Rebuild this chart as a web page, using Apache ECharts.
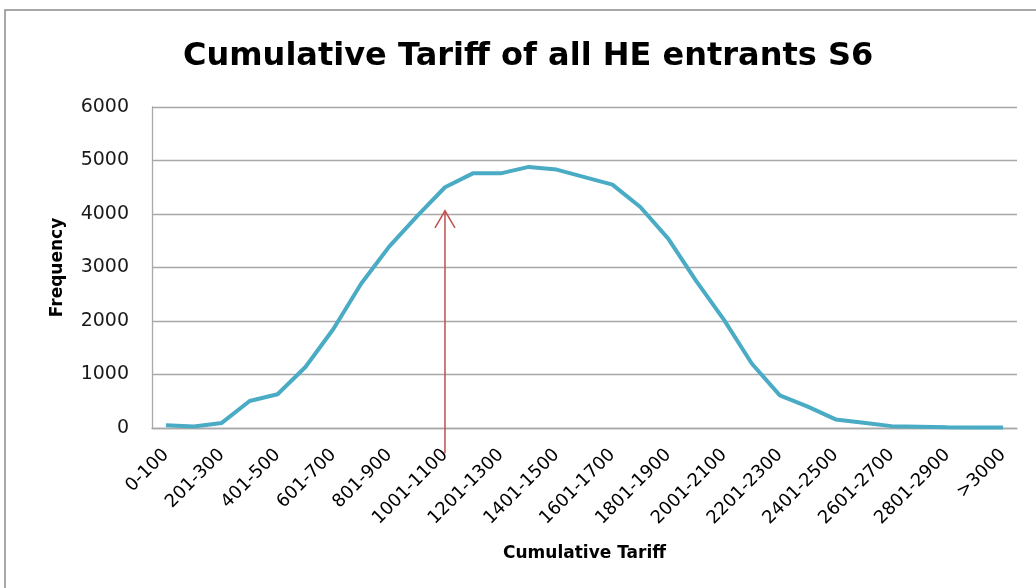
<!DOCTYPE html>
<html>
<head>
<meta charset="utf-8">
<script src="https://cdn.jsdelivr.net/npm/echarts@6/dist/echarts.min.js"></script>
<style>
  html, body { margin: 0; padding: 0; background: #ffffff; }
  #chart { width: 1036px; height: 588px; }
</style>
</head>
<body>
<div id="chart"></div>
<script>
// Tariff bands (points) on the x axis
const categories = [
  '0-100', '101-200', '201-300', '301-400', '401-500', '501-600',
  '601-700', '701-800', '801-900', '901-1000', '1001-1100', '1101-1200',
  '1201-1300', '1301-1400', '1401-1500', '1501-1600', '1601-1700', '1701-1800',
  '1801-1900', '1901-2000', '2001-2100', '2101-2200', '2201-2300', '2301-2400',
  '2401-2500', '2501-2600', '2601-2700', '2701-2800', '2801-2900', '2901-3000',
  '>3000'
];

// Number of entrants in each band
const frequency = [
  50, 30, 95, 505, 630, 1140, 1850, 2700, 3390, 3960, 4500, 4760,
  4760, 4880, 4830, 4690, 4550, 4130, 3540, 2750, 2020, 1200, 610, 400,
  160, 100, 35, 25, 15, 10, 8
];

// Frequency axis ticks
const yTicks = { min: 0, max: 6000, step: 1000 };

// Red pointer marking the 1001-1100 band (from below the axis up to just under the curve)
const pointerBand = '1001-1100';
const pointerFrom = -470;
const pointerTo = 4060;

const FONT = 'DejaVu Sans';
const GRID_COLOR = '#a8a8a8';

const chart = echarts.init(document.getElementById('chart'), null, { renderer: 'canvas' });

chart.setOption({
  backgroundColor: '#ffffff',
  animation: false,
  title: {
    text: 'Cumulative Tariff of all HE entrants S6',
    left: 178,
    top: 36,
    textStyle: { fontFamily: FONT, fontSize: 32, fontWeight: 'bold', color: '#000000' }
  },
  grid: { left: 152, right: 19, top: 107, bottom: 160, containLabel: false },
  xAxis: {
    type: 'category',
    data: categories,
    boundaryGap: true,
    name: 'Cumulative Tariff',
    nameLocation: 'middle',
    nameGap: 117,
    nameTextStyle: { fontFamily: FONT, fontSize: 17, fontWeight: 'bold', color: '#000000' },
    axisLine: { show: true, lineStyle: { color: GRID_COLOR, width: 1.3 } },
    axisTick: { show: false },
    axisLabel: {
      interval: 1,
      rotate: 45,
      margin: 24,
      fontFamily: FONT,
      fontSize: 18,
      color: '#000000'
    },
    splitLine: { show: false }
  },
  yAxis: {
    type: 'value',
    min: yTicks.min,
    max: yTicks.max,
    interval: yTicks.step,
    name: 'Frequency',
    nameLocation: 'middle',
    nameGap: 86,
    nameRotate: 90,
    nameTextStyle: { fontFamily: FONT, fontSize: 17, fontWeight: 'bold', color: '#000000' },
    axisLine: { show: true, lineStyle: { color: GRID_COLOR, width: 1.3 } },
    axisTick: { show: false },
    axisLabel: {
      margin: 23,
      fontFamily: FONT,
      fontSize: 19,
      color: '#1a1a1a',
      formatter: function (v) { return String(v); }
    },
    splitLine: { show: true, lineStyle: { color: GRID_COLOR, width: 1.3 } }
  },
  series: [{
    type: 'line',
    data: frequency,
    showSymbol: false,
    symbol: 'none',
    lineStyle: { color: '#4aabc5', width: 4 },
    z: 3
  }]
});

// Pointer arrow and outer frame, positioned through the grid's own scales
const base = chart.convertToPixel({ gridIndex: 0 }, [pointerBand, pointerFrom]);
const tip = chart.convertToPixel({ gridIndex: 0 }, [pointerBand, pointerTo]);
const RED = '#c0504d';

chart.setOption({
  graphic: [
    {
      type: 'rect',
      shape: { x: 5, y: 10, width: 1200, height: 800 },
      style: { fill: 'none', stroke: '#8c8c8c', lineWidth: 1.5 },
      silent: true,
      z: 0
    },
    {
      type: 'line',
      shape: { x1: base[0], y1: base[1], x2: tip[0], y2: tip[1] },
      style: { stroke: RED, lineWidth: 1.5 },
      silent: true,
      z: 10
    },
    {
      type: 'polyline',
      shape: { points: [[tip[0] - 10, tip[1] + 17], [tip[0], tip[1]], [tip[0] + 10, tip[1] + 17]] },
      style: { stroke: RED, lineWidth: 1.5, fill: 'none' },
      silent: true,
      z: 10
    }
  ]
});
</script>
</body>
</html>
